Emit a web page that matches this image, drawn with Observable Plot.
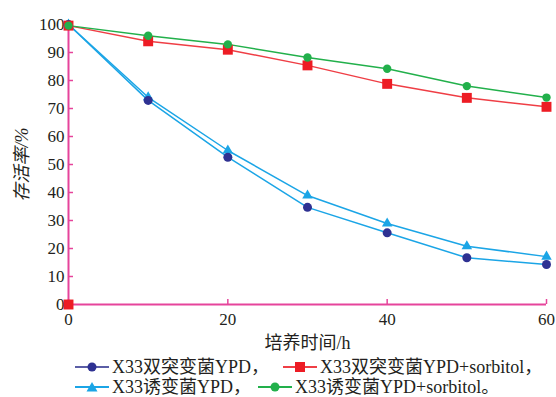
<!DOCTYPE html>
<html>
<head>
<meta charset="utf-8">
<script src="https://cdn.jsdelivr.net/npm/d3@7"></script>
<script src="https://cdn.jsdelivr.net/npm/@observablehq/plot@0.6"></script>
<style>
  html, body { margin: 0; padding: 0; background: #fff; }
  #wrap { width: 556px; position: relative; }
  #wrap svg.chart { display: block; }
  #wrap svg text { font-family: "Liberation Serif", "Times New Roman", "Noto Sans CJK SC", serif; }
  #legend { position: relative; width: 556px; height: 42px; font-family: "Liberation Serif", "Times New Roman", "Noto Sans CJK SC", serif; font-size: 18px; color: #231f20; }
  .item { position: absolute; display: flex; align-items: center; height: 20px; white-space: nowrap; }
  .item span { line-height: 19px; }
  .item svg { margin-right: 3px; display: block; }
</style>
</head>
<body>
<div id="wrap"></div>
<script>
// ---- data ----
const hours = [0, 10, 20, 30, 40, 50, 60];
const dualYPD = [100, 72.9, 52.6, 34.7, 25.6, 16.7, 14.3];
const dualSorbitol = [99.6, 94, 91, 85.4, 78.8, 73.8, 70.6];
const mutYPD = [100, 74, 55, 38.9, 28.9, 20.8, 17.1];
const mutSorbitol = [99.6, 96, 92.9, 88.2, 84.2, 78, 73.9];
const strayPointX = [0];
const strayPointY = [0];
const seriesNames = ["X33双突变菌YPD，", "X33双突变菌YPD+sorbitol，", "X33诱变菌YPD，", "X33诱变菌YPD+sorbitol。"];
const xTicks = [0, 20, 40, 60];
const yTicks = [0, 10, 20, 30, 40, 50, 60, 70, 80, 90, 100];
const xTitle = "培养时间/h";
const yTitle = "存活率/%";

const pink = "#e6449b";
const navy = "#2e3192";
const navyLegend = "#5b5ea6";
const cyan = "#1ba5e6";
const red = "#ed1c24";
const redLine = "#ef3e45";
const green = "#22b04b";
const textColor = "#231f20";

const toRows = (ys) => hours.map((x, i) => ({x, y: ys[i]}));
const stray = strayPointX.map((x, i) => ({x, y: strayPointY[i]}));

const chart = Plot.plot({
  className: "chart",
  width: 556,
  height: 355,
  marginLeft: 68,
  marginRight: 10,
  marginTop: 24,
  marginBottom: 51,
  x: {domain: [0, 60]},
  y: {domain: [0, 100]},
  style: {fontFamily: "'Liberation Serif', 'Noto Sans CJK SC', serif", fontSize: "17px", color: textColor, background: "#fff", overflow: "visible"},
  marks: [
    Plot.axisY({ticks: yTicks, tickSize: -5, tickPadding: 9, stroke: pink, strokeWidth: 1.5, fill: textColor, label: null, fontSize: 17}),
    Plot.axisX({ticks: xTicks, tickSize: -5, tickPadding: 13, stroke: pink, strokeWidth: 1.5, fill: textColor, label: null, fontSize: 17}),
    Plot.ruleX([0], {y1: 0, y2: 100, stroke: pink, strokeWidth: 2}),
    Plot.ruleY([0], {x1: 0, x2: 60, stroke: pink, strokeWidth: 2}),
    Plot.line(toRows(dualYPD), {x: "x", y: "y", stroke: cyan, strokeWidth: 1.5}),
    Plot.line(toRows(mutYPD), {x: "x", y: "y", stroke: cyan, strokeWidth: 1.5}),
    Plot.line(toRows(dualSorbitol), {x: "x", y: "y", stroke: redLine, strokeWidth: 1.5}),
    Plot.line(toRows(mutSorbitol), {x: "x", y: "y", stroke: green, strokeWidth: 1.5}),
    Plot.dot(toRows(mutYPD), {x: "x", y: "y", symbol: "triangle", r: 3.9, fill: cyan}),
    Plot.dot(toRows(dualYPD), {x: "x", y: "y", symbol: "circle", r: 4.5, fill: navy}),
    Plot.dot(toRows(dualSorbitol), {x: "x", y: "y", symbol: "square", r: 5.6, fill: red}),
    Plot.dot(stray, {x: "x", y: "y", symbol: "square", r: 5.6, fill: red}),
    Plot.dot(toRows(mutSorbitol), {x: "x", y: "y", symbol: "circle", r: 4.2, fill: green}),
    Plot.text([xTitle], {text: d => d, frameAnchor: "bottom", textAnchor: "middle", lineAnchor: "middle", dy: 39, fontSize: 18, fill: textColor}),
    Plot.text([yTitle], {text: d => d, frameAnchor: "left", textAnchor: "middle", lineAnchor: "middle", dx: -46, rotate: -90, fontSize: 18, fill: textColor, fontStyle: "italic"})
  ]
});

const wrap = document.getElementById("wrap");
wrap.appendChild(chart);

// ---- legend ----
const legend = document.createElement("div");
legend.id = "legend";
const items = [
  {name: seriesNames[0], line: navyLegend, mark: "circle", fill: navy, left: 75, top: 2},
  {name: seriesNames[1], line: redLine, mark: "square", fill: red, left: 283, top: 2},
  {name: seriesNames[2], line: cyan, mark: "triangle", fill: cyan, left: 75, top: 22},
  {name: seriesNames[3], line: green, mark: "circle", fill: green, left: 258, top: 22}
];
for (const it of items) {
  const div = document.createElement("div");
  div.className = "item";
  div.style.left = it.left + "px";
  div.style.top = it.top + "px";
  let marker = "";
  if (it.mark === "circle") marker = `<circle cx="17" cy="7" r="4.5" fill="${it.fill}"/>`;
  if (it.mark === "square") marker = `<rect x="12" y="2" width="10" height="10" fill="${it.fill}"/>`;
  if (it.mark === "triangle") marker = `<path d="M17,2 L22.5,11.5 L11.5,11.5 Z" fill="${it.fill}"/>`;
  div.innerHTML = `<svg width="34" height="14"><line x1="0" x2="34" y1="7" y2="7" stroke="${it.line}" stroke-width="2"/>${marker}</svg><span>${it.name}</span>`;
  legend.appendChild(div);
}
wrap.appendChild(legend);
</script>
</body>
</html>
